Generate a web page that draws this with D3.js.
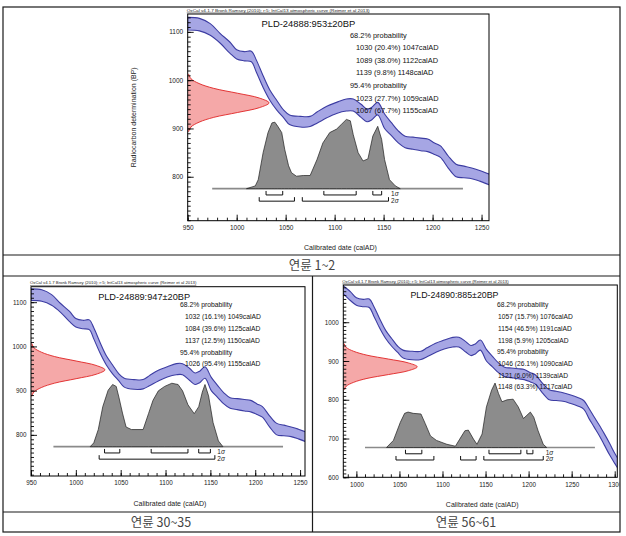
<!DOCTYPE html>
<html><head><meta charset="utf-8">
<script src="https://cdn.jsdelivr.net/npm/d3@7"></script>
<style>
html,body{margin:0;padding:0;background:#fff;}
svg{display:block;}
</style></head><body>
<svg id="chart" width="626" height="536"></svg>
<script>
// ---------------- DATA ----------------
// IntCal13 calibration band (1 sigma)
const curveYears = [950,962,973,983,993,1000,1008,1015,1020,1027,1034,1041,1048,1054,1065,1075,1082,1092,1102,1112,1119,1127,1133,1138,1144,1151,1158,1165,1172,1180,1188,1195,1202,1208,1216,1224,1232,1240,1248,1257,1264,1270,1276,1282,1288,1294,1300,1306];
const curveHigh  = [1130,1128,1117,1097,1079,1063,1059,1060,1042,1009,979,958,938,928,925,925,934,946,954,961,961,950,940,944,954,930,912,895,884,882,880,878,870,864,843,826,822,818,813,806,798,778,756,735,712,688,662,640];
const curveLow   = [1104,1102,1093,1077,1056,1044,1040,1038,1017,985,958,938,922,908,903,904,911,922,931,936,936,923,914,918,928,900,885,870,860,857,854,852,846,840,818,800,798,796,791,784,776,752,730,708,683,658,636,614];

const sampleNames  = ["PLD-24888", "PLD-24889", "PLD-24890"];
const sampleBP     = [953, 947, 885];
const sampleError  = [20, 20, 20];
const captions     = ["연륜 1~2", "연륜 30~35", "연륜 56~61"];
const headerText   = "OxCal v4.1.7 Bronk Ramsey (2010); r:5; IntCal13 atmospheric curve (Reimer et al 2013)";

// radiocarbon (red) distribution: offsets in sigma units and relative density
const normalOffsets = [-3,-2.5,-2,-1.5,-1,-0.5,0,0.5,1,1.5,2,2.5,3];
const normalDensity = [0.01,0.04,0.14,0.32,0.61,0.88,1,0.88,0.61,0.32,0.14,0.04,0.01];

// calibrated (grey) distributions: calendar years and relative probability
const distYears1   = [1010,1019,1022,1027,1032,1036,1039,1042,1046,1049,1053,1056,1061,1068,1075,1082,1088,1095,1102,1107,1112,1116,1119,1124,1129,1134,1139,1144,1148,1151,1156,1162,1167];
const distDensity1 = [0,0.04,0.13,0.52,0.81,0.95,0.96,0.90,0.81,0.57,0.33,0.23,0.18,0.19,0.19,0.42,0.66,0.81,0.86,0.93,1.0,0.98,0.78,0.52,0.40,0.43,0.76,0.90,0.71,0.42,0.13,0.04,0];
const distYears2   = [1016,1020,1025,1030,1036,1041,1045,1048,1052,1056,1062,1075,1081,1086,1092,1099,1107,1114,1119,1125,1132,1137,1141,1144,1148,1153,1159,1164];
const distDensity2 = [0,0.06,0.27,0.63,0.89,0.98,0.95,0.78,0.53,0.31,0.27,0.27,0.52,0.73,0.88,0.95,1.0,0.98,0.88,0.66,0.52,0.63,0.86,0.98,0.80,0.38,0.09,0];
const distYears3   = [1035,1043,1051,1056,1060,1066,1075,1080,1086,1093,1105,1115,1120,1126,1130,1136,1140,1146,1151,1157,1161,1165,1169,1175,1182,1188,1194,1198,1202,1206,1211,1217,1221];
const distDensity3 = [0,0.11,0.39,0.53,0.55,0.53,0.52,0.37,0.18,0.11,0.05,0.02,0.13,0.26,0.27,0.13,0.05,0.21,0.63,0.89,1.0,0.84,0.71,0.74,0.75,0.63,0.45,0.5,0.55,0.47,0.26,0.05,0];

// extent of the grey base line (cal AD)
const baseline1 = [975, 1231];
const baseline2 = [975, 1231];
const baseline3 = [1010, 1277];

// highest probability ranges: [from, percent, to]
const ranges68_1 = [[1030,20.4,1047],[1089,38.0,1122],[1139,9.8,1148]];
const ranges95_1 = [[1023,27.7,1059],[1067,67.7,1155]];
const ranges68_2 = [[1032,16.1,1049],[1084,39.6,1125],[1137,12.5,1150]];
const ranges95_2 = [[1026,95.4,1155]];
const ranges68_3 = [[1057,15.7,1076],[1154,46.5,1191],[1198,5.9,1205]];
const ranges95_3 = [[1046,26.1,1090],[1121,6.0,1139],[1148,63.3,1217]];

// axis ticks
const xTicks12 = [950,1000,1050,1100,1150,1200,1250];
const xTicks3  = [1000,1050,1100,1150,1200,1250,1300];
const yTicks12 = [800,900,1000,1100];
const yTicks3  = [600,700,800,900,1000];

// ---------------- LAYOUT ----------------
const FONT = "'Liberation Sans', Arial, sans-serif";
const svg = d3.select("#chart");
const defs = svg.append("defs");

const cells = [
  {x0:3, y0:7, x1:620, y1:255},
  {x0:3, y0:276, x1:312.5, y1:512},
  {x0:312.5, y0:276, x1:620, y1:512}
];

const panels = [
  {box:{l:187.7,t:14,r:489,b:220.7}, xDomain:[950,1257.6], yDomain:[709,1137],
   dist:[distYears1,distDensity1], base:baseline1, r68:ranges68_1, r95:ranges95_1,
   xTicks:xTicks12, yTicks:yTicks12, titleSize:9.4, probSize:7.4, probX:350, probY:35, probStep:12.6, indent:6,
   tickSize:6.5, tickPad:5, yTitle:true},
  {box:{l:31,t:286.7,r:305,b:476}, xDomain:[950,1255.5], yDomain:[707,1135],
   dist:[distYears2,distDensity2], base:baseline2, r68:ranges68_2, r95:ranges95_2,
   xTicks:xTicks12, yTicks:yTicks12, titleSize:9.2, probSize:6.8, probX:180, probY:305, probStep:11.8, indent:5,
   tickSize:6.3, tickPad:5, yTitle:false},
  {box:{l:343.3,t:285,r:617.3,b:477.3}, xDomain:[984.8,1303], yDomain:[600,1096],
   dist:[distYears3,distDensity3], base:baseline3, r68:ranges68_3, r95:ranges95_3,
   xTicks:xTicks3, yTicks:yTicks3, titleSize:8.8, probSize:6.7, probX:497, probY:305, probStep:11.7, indent:1,
   tickSize:6.3, tickPad:5, yTitle:false}
];

// table
const table = svg.append("g").attr("stroke","#1a1a1a").attr("stroke-width",1.2).attr("fill","none");
table.append("rect").attr("x",3).attr("y",7).attr("width",617).attr("height",525);
table.append("line").attr("x1",3).attr("x2",620).attr("y1",255).attr("y2",255);
table.append("line").attr("x1",3).attr("x2",620).attr("y1",276).attr("y2",276);
table.append("line").attr("x1",3).attr("x2",620).attr("y1",512).attr("y2",512);
table.append("line").attr("x1",312.5).attr("x2",312.5).attr("y1",276).attr("y2",532);

// captions
const capPos = [[312,270],[161,527],[466,527]];
captions.forEach((c,i)=>{
  svg.append("text").attr("x",capPos[i][0]).attr("y",capPos[i][1])
    .attr("text-anchor","middle").attr("font-family","'Noto Sans CJK KR', sans-serif")
    .attr("font-size",12.5).attr("fill","#444").text(c);
});

panels.forEach((p,i)=>{
  const {l,t,r,b} = p.box;
  const w = r-l, h = b-t;
  const cell = cells[i];
  defs.append("clipPath").attr("id","cell"+i).append("rect")
    .attr("x",cell.x0+0.6).attr("y",cell.y0+0.6).attr("width",cell.x1-cell.x0-1.2).attr("height",cell.y1-cell.y0-1.2);
  defs.append("clipPath").attr("id","frame"+i).append("rect")
    .attr("x",l).attr("y",t).attr("width",w).attr("height",h);

  const g = svg.append("g").attr("clip-path",`url(#cell${i})`);
  const inner = g.append("g").attr("clip-path",`url(#frame${i})`);

  const x = d3.scaleLinear().domain(p.xDomain).range([l,r]);
  const y = d3.scaleLinear().domain(p.yDomain).range([b,t]);

  // calibration curve band
  const band = curveYears.map((yr,k)=>({yr, hi:curveHigh[k], lo:curveLow[k]}));
  inner.append("path").datum(band)
    .attr("d", d3.area().x(d=>x(d.yr)).y0(d=>y(d.lo)).y1(d=>y(d.hi)).curve(d3.curveCatmullRom))
    .attr("fill","#a6a6e4").attr("stroke","#3c3ca2").attr("stroke-width",1.1);

  // radiocarbon date distribution (red)
  const redW = 0.27*w;
  const red = normalOffsets.map((o,k)=>({bp: sampleBP[i] + o*sampleError[i], d: normalDensity[k]}));
  inner.append("path").datum(red)
    .attr("d", d3.area().y(d=>y(d.bp)).x0(l).x1(d=>l + d.d*redW).curve(d3.curveCatmullRom))
    .attr("fill","#f5a8a8").attr("stroke","none");
  inner.append("path").datum(red)
    .attr("d", d3.line().y(d=>y(d.bp)).x(d=>l + d.d*redW).curve(d3.curveCatmullRom))
    .attr("fill","none").attr("stroke","#e02424").attr("stroke-width",0.9);

  // calibrated distribution (grey)
  const baseY = b - 0.155*h;
  const distH = 0.335*h;
  inner.append("line").attr("x1",x(p.base[0])).attr("x2",x(p.base[1]))
    .attr("y1",baseY).attr("y2",baseY).attr("stroke","#8a8a8a").attr("stroke-width",1.6);
  const dist = p.dist[0].map((yr,k)=>({yr, d:p.dist[1][k]}));
  inner.append("path").datum(dist)
    .attr("d", d3.area().x(d=>x(d.yr)).y0(baseY).y1(d=>baseY - d.d*distH).curve(d3.curveLinear))
    .attr("fill","#8c8c8c").attr("stroke","#1e1e1e").attr("stroke-width",0.7);

  // range brackets
  const br = inner.append("g").attr("stroke","#111").attr("stroke-width",1).attr("fill","none");
  const bracket = (rg, yy) => {
    br.append("path").attr("d", `M${x(rg[0])},${yy-4}V${yy}H${x(rg[2])}V${yy-4}`);
  };
  const y1s = baseY + 6.3, y2s = baseY + 12.5;
  p.r68.forEach(rg=>bracket(rg,y1s));
  p.r95.forEach(rg=>bracket(rg,y2s));
  const sx = x(d3.max(p.r95, rg=>rg[2])) + 2.5;
  [[y1s,"1"],[y2s,"2"]].forEach(([yy,n])=>{
    const tx = inner.append("text").attr("x",sx).attr("y",yy+1.5)
      .attr("font-family",FONT).attr("font-size",6.5).attr("fill","#222");
    tx.append("tspan").text(n);
    tx.append("tspan").attr("font-style","italic").text("σ");
  });

  // axes (inward ticks)
  const minorX = d3.range(Math.ceil(p.xDomain[0]/10)*10, p.xDomain[1]+0.1, 10);
  const minorY = d3.range(Math.ceil(p.yDomain[0]/10)*10, p.yDomain[1]+0.1, 10);
  const styleAxis = sel => {
    sel.select(".domain").remove();
    sel.selectAll("line").attr("stroke","#000").attr("stroke-width",0.9);
    sel.selectAll("text").attr("font-family",FONT).attr("font-size",p.tickSize).attr("fill","#222");
  };
  g.append("g").attr("transform",`translate(0,${b})`)
    .call(d3.axisBottom(x).tickValues(minorX).tickSize(-3).tickFormat(""))
    .call(styleAxis);
  g.append("g").attr("transform",`translate(0,${b})`)
    .call(d3.axisBottom(x).tickValues(p.xTicks).tickSize(-6).tickPadding(p.tickPad).tickFormat(d3.format("d")))
    .call(styleAxis);
  g.append("g").attr("transform",`translate(${l},0)`)
    .call(d3.axisLeft(y).tickValues(minorY).tickSize(-3).tickFormat(""))
    .call(styleAxis);
  g.append("g").attr("transform",`translate(${l},0)`)
    .call(d3.axisLeft(y).tickValues(p.yTicks).tickSize(-6).tickPadding(4.5).tickFormat(d3.format("d")))
    .call(styleAxis);

  // frame
  g.append("rect").attr("x",l).attr("y",t).attr("width",w).attr("height",h)
    .attr("fill","none").attr("stroke","#000").attr("stroke-width",1);

  // header
  g.append("text").attr("x",l-1).attr("y",t-2.3)
    .attr("font-family",FONT).attr("font-size",4.3).attr("fill","#222")
    .attr("text-decoration","underline")
    .attr("textLength",0.607*w).attr("lengthAdjust","spacingAndGlyphs").text(headerText);

  // title
  g.append("text").attr("x",l+0.245*w).attr("y",t+13.3)
    .attr("font-family",FONT).attr("font-size",p.titleSize).attr("fill","#111")
    .text(`${sampleNames[i]}:${sampleBP[i]}±${sampleError[i]}BP`);

  // probability text
  const lines = [];
  lines.push({t:"68.2% probability", ind:0});
  p.r68.forEach(rg=>lines.push({t:`${rg[0]} (${rg[1].toFixed(1)}%) ${rg[2]}calAD`, ind:p.indent}));
  lines.push({t:"95.4% probability", ind:0});
  p.r95.forEach(rg=>lines.push({t:`${rg[0]} (${rg[1].toFixed(1)}%) ${rg[2]}calAD`, ind:p.indent}));
  lines.forEach((ln,k)=>{
    g.append("text").attr("x",p.probX+ln.ind).attr("y",p.probY+k*p.probStep+p.probSize*0.36)
      .attr("font-family",FONT).attr("font-size",p.probSize).attr("fill","#111").text(ln.t);
  });

  // axis titles
  g.append("text").attr("x",l+0.507*w).attr("y",b+29.5).attr("text-anchor","middle")
    .attr("font-family",FONT).attr("font-size",7).attr("fill","#222").text("Calibrated date (calAD)");
  if (p.yTitle) {
    g.append("text").attr("transform",`translate(${l-52},${t+0.5*h}) rotate(-90)`)
      .attr("text-anchor","middle")
      .attr("font-family",FONT).attr("font-size",7).attr("fill","#222").text("Radiocarbon determination (BP)");
  }
});
</script>
</body></html>
